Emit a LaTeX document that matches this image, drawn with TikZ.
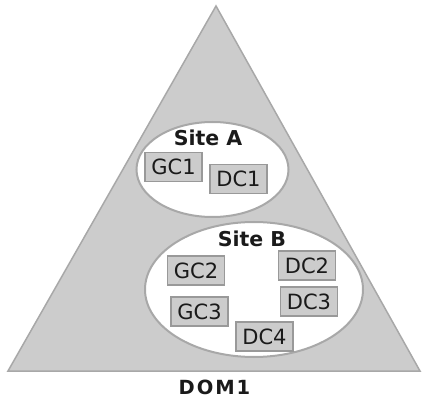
\documentclass[tikz,border=0pt]{standalone}
\usepackage{fontspec}
\setmainfont{DejaVu Sans}
\definecolor{areagray}{HTML}{CCCCCC}
\definecolor{linegray}{HTML}{A8A8A8}
\definecolor{boxline}{HTML}{999999}
\definecolor{inkgray}{HTML}{1A1A1A}

\begin{document}
\begin{tikzpicture}[x=1pt,y=-1pt,
	server/.style={draw=boxline, line width=1.2pt, fill=areagray, minimum width=57pt, minimum height=29pt, inner sep=0pt, text=inkgray, font=\fontsize{21}{21}\selectfont},
	site/.style={draw=linegray, line width=2pt, fill=white},
	sitename/.style={text=inkgray, font=\fontsize{20.5}{20.5}\selectfont\bfseries}]
\useasboundingbox (0,0) rectangle (423,398);

\draw[draw=linegray, line width=1.5pt, fill=areagray]
	(216,6) -- (420,371) -- (8,371) -- cycle;

\draw[site] (212.5,169.5) ellipse [x radius=76, y radius=47.5];
\draw[site] (254,289.5) ellipse [x radius=109, y radius=67.5];

\node[sitename] (siteA) at (208,138) {Site A};
\node[sitename] (siteB) at (252,239) {Site B};

\node[server] (GC1) at (173.5,167) {GC1};
\node[server] (DC1) at (238.5,179) {DC1};

\node[server] (GC2) at (196,270.5) {GC2};
\node[server] (DC2) at (307,265.5) {DC2};
\node[server] (GC3) at (199.5,311.5) {GC3};
\node[server] (DC3) at (309,301.5) {DC3};
\node[server] (DC4) at (264.5,336.5) {DC4};

\node[sitename, font=\fontsize{19.5}{19.5}\selectfont\bfseries\addfontfeature{LetterSpace=10}] (DOM1) at (214.5,387.5) {DOM1};

\end{tikzpicture}
\end{document}
